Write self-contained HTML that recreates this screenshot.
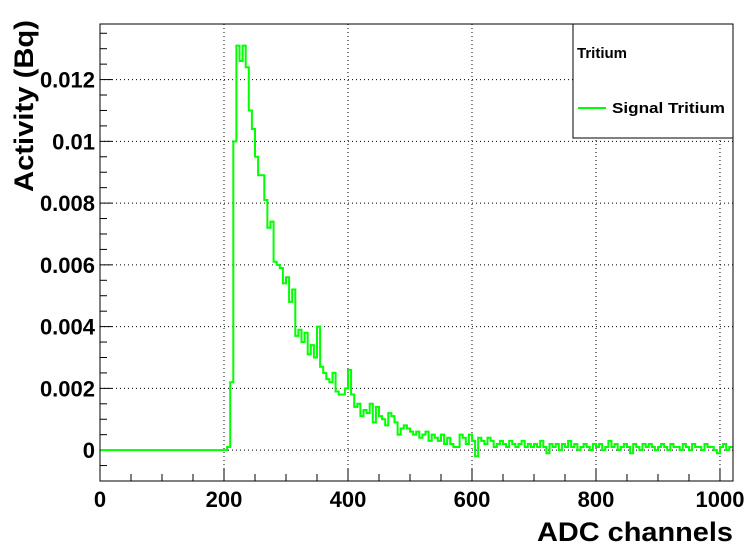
<!DOCTYPE html>
<html><head><meta charset="utf-8"><style>
html,body{margin:0;padding:0;background:#fff;}
svg{display:block;font-family:"Liberation Sans",sans-serif;}
</style></head><body>
<svg id="chart" width="756" height="549" viewBox="0 0 756 549" xmlns="http://www.w3.org/2000/svg">
<rect x="0" y="0" width="756" height="549" fill="#fff"/>
<g id="grid"></g>
<g id="axes"></g>
<path id="hist" fill="none" stroke="#00ff00" stroke-width="2"/>
<rect x="100" y="24" width="633" height="457" fill="none" stroke="#000" stroke-width="1"/>
<g>
<rect x="573" y="24" width="160" height="114" fill="#fff" stroke="#000" stroke-width="1"/>
<text x="577" y="58" font-size="15" font-weight="bold">Tritium</text>
<line x1="578" y1="108" x2="606" y2="108" stroke="#00ff00" stroke-width="2"/>
<text x="612" y="113" font-size="15" font-weight="bold" textLength="113" lengthAdjust="spacingAndGlyphs">Signal Tritium</text>
</g>
<text x="733" y="541" font-size="27" font-weight="bold" text-anchor="end" textLength="196" lengthAdjust="spacingAndGlyphs">ADC channels</text>
<text transform="translate(33,192) rotate(-90)" font-size="27" font-weight="bold" textLength="172" lengthAdjust="spacingAndGlyphs">Activity (Bq)</text>
</svg>
<script>
const binStart = 0;
const binWidth = 5;
const leadZeros = 41;
const values = [
0.0001,0.0022,0.0100,0.0131,0.0126,0.0131,0.0124,0.0110,0.0104,0.0095,
0.0089,0.0089,0.0081,0.0072,0.0074,0.0061,0.0060,0.0059,0.0054,0.0056,
0.0048,0.0052,0.0037,0.0039,0.0035,0.0038,0.0031,0.0034,0.0030,0.0040,
0.0027,0.0025,0.0023,0.0022,0.0025,0.0019,0.0018,0.0018,0.0020,0.0026,
0.0018,0.0014,0.0015,0.0011,0.0013,0.0012,0.0015,0.0009,0.0014,0.0011,
0.0010,0.0008,0.0012,0.0011,0.0009,0.0005,0.0007,0.0008,0.0007,0.0006,
0.0005,0.0006,0.0004,0.0005,0.0006,0.0003,0.0005,0.0004,0.0003,0.0005,
0.0002,0.0004,0.0002,0.0001,0.0001,0.0005,0.0004,0.0002,0.0005,0.0003,
-0.0002,0.0004,0.0003,0.0002,0.0004,0.0003,0.0001,0.0002,0.0003,0.0002,
0.0001,0.0003,0.0002,0.0001,0.0002,0.0003,0.0001,0.0002,0.0001,0.0002,
0.0001,0.0003,0.0001,-0.0001,0.0002,0.0001,0.0002,0.0000,0.0002,0.0001,
0.0003,0.0001,0.0002,0.0000,0.0001,0.0002,0.0001,0.0000,0.0002,0.0001,
0.0002,0.0000,0.0001,0.0003,0.0001,0.0002,0.0000,0.0001,0.0002,0.0001,
-0.0001,0.0002,0.0001,0.0000,0.0002,0.0001,0.0002,0.0001,0.0000,0.0001,
0.0002,0.0001,0.0000,0.0002,0.0001,0.0001,0.0000,0.0002,0.0001,0.0000,
0.0002,0.0001,0.0001,0.0000,0.0002,0.0001,0.0001,0.0000,-0.0001,0.0001,
0.0002,0.0000,0.0001
];
const xTicks = [0,200,400,600,800,1000];
const yTicks = [0,0.002,0.004,0.006,0.008,0.01,0.012];
const yTickLabels = ["0","0.002","0.004","0.006","0.008","0.01","0.012"];

const X0=100,X1=733,Y0=481,Y1=24;
const xMin=0,xMax=1021,yMin=-0.001,yMax=0.0138;
function xs(v){return X0+(v-xMin)/(xMax-xMin)*(X1-X0);}
function ys(v){return Y0-(v-yMin)/(yMax-yMin)*(Y0-Y1);}
const NS="http://www.w3.org/2000/svg";
function mk(tag,attrs,parent){const e=document.createElementNS(NS,tag);for(const k in attrs)e.setAttribute(k,attrs[k]);parent.appendChild(e);return e;}
const grid=document.getElementById('grid'), axes=document.getElementById('axes');

xTicks.forEach(t=>{
  if(t>0){const g=mk('line',{x1:xs(t),x2:xs(t),y1:Y0,y2:Y1,stroke:'#000','stroke-width':1,'stroke-dasharray':'1,3'},grid);
  
  }
  const tl=mk('text',{x:xs(t),y:507,'font-size':22,'font-weight':'bold','text-anchor':'middle'},axes);
  tl.textContent=String(t);
  
  
});
for(let v=0;v<=1020;v+=50){
  const big=v%200===0;
  const tk=mk('line',{x1:xs(v),x2:xs(v),y1:Y0,y2:Y0-(big?12:7),stroke:'#000','stroke-width':1},axes);
  
  
}
yTicks.forEach((t,i)=>{
  const g=mk('line',{x1:X0,x2:X1,y1:ys(t),y2:ys(t),stroke:'#000','stroke-width':1,'stroke-dasharray':'1,3'},grid);
  
  
  const tl=mk('text',{x:95,y:ys(t)+8,'font-size':22,'font-weight':'bold','text-anchor':'end'},axes);
  tl.textContent=yTickLabels[i];
  
  
});
for(let k=-2;k<=27;k++){
  const v=k*0.0005; if(v<yMin||v>yMax)continue;
  const big=k%4===0;
  const tk=mk('line',{x1:X0,x2:X0+(big?12:7),y1:ys(v),y2:ys(v),stroke:'#000','stroke-width':1},axes);
  
  
}
const all=[];for(let i=0;i<leadZeros;i++)all.push(0);values.forEach(v=>all.push(v));
let d='';
all.forEach((v,i)=>{
  const a=binStart+i*binWidth,b=Math.min(a+binWidth,xMax);
  if(a>=xMax)return;
  d+=(i===0?'M':'L')+xs(a).toFixed(2)+','+ys(v).toFixed(2)+'L'+xs(b).toFixed(2)+','+ys(v).toFixed(2);
});
document.getElementById('hist').setAttribute('d',d);
</script>
</body></html>
